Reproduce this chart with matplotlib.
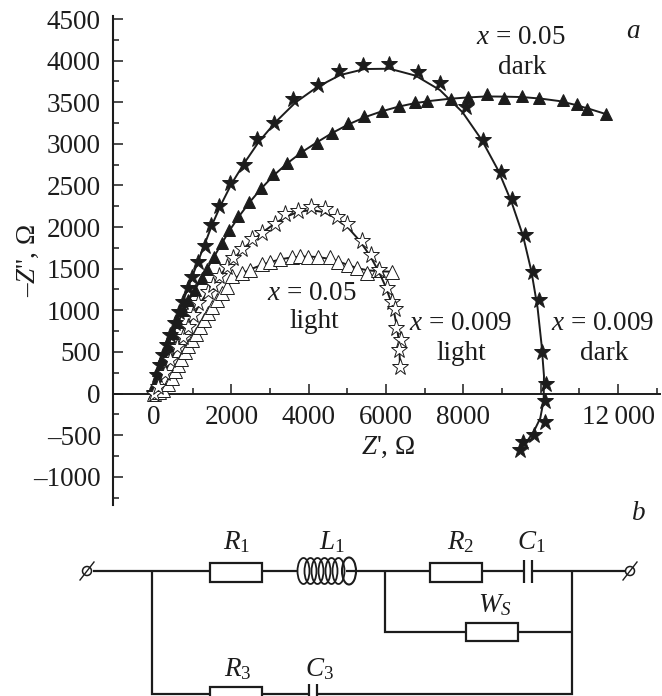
import numpy as np
import matplotlib
matplotlib.use("Agg")
import matplotlib.pyplot as plt
from matplotlib.patches import Ellipse, Rectangle
from matplotlib.ticker import MultipleLocator, FixedLocator

plt.rcParams['font.family'] = ['Liberation Serif', 'DejaVu Serif']
plt.rcParams['mathtext.fontset'] = 'custom'
plt.rcParams['mathtext.rm'] = 'Liberation Serif'
plt.rcParams['mathtext.it'] = 'Liberation Serif:italic'
plt.rcParams['mathtext.default'] = 'it'

INK = '#1c1c1c'
FS = 19.5

dark_star_x = [0, 70, 155, 240, 328, 414, 543, 654, 750, 879, 975, 1130, 1319, 1474, 1681, 1965, 2327, 2671, 3103,
               3602, 4241, 4776, 5412, 6077, 6819, 7388, 8076, 8508, 8981, 9258, 9602, 9809, 9948, 10034, 10137,
               10111, 10111, 9827, 9550, 9465]
dark_star_y = [6, 222, 343, 463, 583, 703, 847, 983, 1103, 1268, 1404, 1584, 1767, 2025, 2257, 2534, 2743, 3063, 3255,
               3540, 3704, 3880, 3945, 3965, 3868, 3728, 3447, 3047, 2659, 2341, 1901, 1457, 1124, 495, 111,
               -94, -339, -499, -587, -679]
dark_tri_x = [0, 26, 111, 240, 370, 499, 628, 758, 887, 1060, 1233, 1378, 1552, 1751, 1947, 2180, 2464, 2767, 3085,
              3432, 3801, 4207, 4595, 5025, 5438, 5904, 6343, 6750, 7053, 7680, 8128, 8604, 9059, 9524, 9956, 10569,
              10931, 11190, 11681]
dark_tri_y = [6, 126, 282, 442, 583, 727, 863, 1004, 1124, 1244, 1388, 1496, 1644, 1805, 1965, 2137, 2305, 2466, 2638,
              2774, 2918, 3007, 3135, 3255, 3335, 3395, 3455, 3507, 3516, 3540, 3560, 3600, 3548, 3576, 3555, 3528,
              3476, 3419, 3359]
light_star_x = [0, 111, 284, 414, 587, 758, 887, 1016, 1146, 1389, 1534, 1689, 1880, 2051, 2268, 2542, 2785, 3129,
                3388, 3716, 4052, 4422, 4725, 4999, 5371, 5604, 5826, 6018, 6147, 6232, 6258, 6380, 6343, 6362]
light_star_y = [0, 82, 243, 403, 563, 683, 803, 943, 1084, 1224, 1304, 1412, 1524, 1625, 1733, 1853, 1933, 2037,
                2157, 2197, 2245, 2214, 2125, 2037, 1837, 1665, 1484, 1264, 1103, 1016, 784, 643, 523, 322]
light_tri_x = [0, 130, 233, 350, 465, 545, 621, 710, 802, 890, 983, 1085, 1190, 1290, 1396, 1510, 1629, 1760, 1888,
               2009, 2268, 2483, 2785, 3000, 3258, 3561, 3776, 3990, 4249, 4551, 4766, 5025, 5242, 5500, 5800, 6147]
light_tri_y = [0, 15, 42, 115, 186, 265, 343, 420, 499, 570, 643, 720, 799, 885, 968, 1045, 1124, 1205, 1280,
               1412, 1445, 1484, 1556, 1584, 1617, 1644, 1653, 1644, 1644, 1644, 1584, 1545, 1505, 1445, 1484, 1464]

x_major_ticks = [0, 2000, 4000, 6000, 8000, 10000, 12000]
x_minor_ticks = [1000, 3000, 5000, 7000, 9000, 11000, 13000]
x_tick_labels = ['0', '2000', '4000', '6000', '8000', '', '12\u2009000']
y_tick_values = [-1000, -500, 0, 500, 1000, 1500, 2000, 2500, 3000, 3500, 4000, 4500]
y_tick_labels = ['\u20131000', '\u2013500', '0', '500', '1000', '1500', '2000', '2500', '3000', '3500', '4000', '4500']

W, H = 662, 696
fig = plt.figure(figsize=(W / 100, H / 100), dpi=100, facecolor='white')

L, R, T, B = 113.5, 660, 16, 505
ax = fig.add_axes([L / W, 1 - B / H, (R - L) / W, (B - T) / H])
ax.set_xlim(-1047, 13085)
ax.set_ylim(-1340, 4537)
ax.patch.set_alpha(0)


def smooth(values):
    v = np.asarray(values, float)
    for _ in range(2):
        out = v.copy()
        out[1:-1] = (v[:-2] + v[1:-1] + v[2:]) / 3
        v = out
    return v


series = [
    (dark_star_x, dark_star_y, '*', 12, INK),
    (dark_tri_x, dark_tri_y, '^', 9, INK),
    (light_tri_x, light_tri_y, '^', 9.5, 'white'),
    (light_star_x, light_star_y, '*', 12.5, 'white'),
]
for i, (sx, sy, mk, ms, fc) in enumerate(series):
    ax.plot(smooth(sx), smooth(sy), color=INK, lw=1.4, zorder=3 + i, clip_on=False)
    ax.plot(sx, sy, ls='none', marker=mk, ms=ms, mfc=fc, mec=INK, mew=0.7, zorder=3 + i, clip_on=False)

for s in ('top', 'right'):
    ax.spines[s].set_visible(False)
ax.spines['bottom'].set_position(('data', 0))
ax.spines['bottom'].set_linewidth(1.4)
ax.spines['left'].set_linewidth(1.5)
ax.spines['bottom'].set_color(INK)
ax.spines['left'].set_color(INK)

ax.xaxis.set_major_locator(FixedLocator(x_major_ticks))
ax.xaxis.set_minor_locator(FixedLocator(x_minor_ticks))
ax.set_xticklabels(x_tick_labels)
ax.yaxis.set_major_locator(FixedLocator(y_tick_values))
ax.set_yticklabels(y_tick_labels)
ax.yaxis.set_minor_locator(MultipleLocator(250))
ax.tick_params(axis='both', which='major', direction='in', length=7.2, width=1.1, labelsize=FS,
               color=INK, labelcolor=INK)
ax.tick_params(axis='both', which='minor', direction='in', length=4.3, width=1.1, color=INK)
ax.tick_params(axis='x', pad=8)
ax.tick_params(axis='y', pad=9)

ov = fig.add_axes([0, 0, 1, 1], zorder=10)
ov.set_xlim(0, W)
ov.set_ylim(H, 0)
ov.axis('off')
ov.patch.set_alpha(0)

labels = [
    (633, 31, r'$a$'), (521, 37, r'$x$ = 0.05'), (522, 67, 'dark'),
    (312, 293, r'$x$ = 0.05'), (314, 322, 'light'),
    (461, 324, r'$x$ = 0.009'), (461, 353, 'light'),
    (603, 323, r'$x$ = 0.009'), (604, 353, 'dark'),
    (388, 447, "$Z$', \u03a9"), (638, 514, r'$b$'),
    (237, 542, r'$R_1$'), (332, 542, r'$L_1$'), (461, 542, r'$R_2$'), (531, 542, r'$C_1$'),
    (495, 605, r'$W_S$'), (238, 669, r'$R_3$'), (319, 669, r'$C_3$'),
]
for lx, ly, s in labels:
    ov.text(lx, ly, s, ha='center', va='center', fontsize=FS, color=INK)
ov.text(28, 261, "\u2013$Z$'', \u03a9", ha='center', va='center', rotation=90, fontsize=FS, color=INK)

wires = [
    ([93, 210], [571, 571]), ([262, 298], [571, 571]), ([346, 430], [571, 571]), ([482, 524], [571, 571]),
    ([532, 625], [571, 571]), ([151.5, 151.5, 210], [571, 694, 694]), ([262, 309], [694, 694]),
    ([317, 572, 572], [694, 694, 571]), ([385, 385, 465], [571, 632, 632]), ([518, 572], [632, 632]),
    ([524, 524], [560, 583]), ([532, 532], [560, 583]), ([309, 309], [684, 696]), ([317, 317], [684, 696]),
]
for wx, wy in wires:
    ov.plot(wx, wy, color=INK, lw=1.6, solid_capstyle='butt', solid_joinstyle='miter')
for rx, ry, rw, rh in [(210, 562.5, 52, 19), (430, 562.5, 52, 19), (465.5, 623, 52, 18), (210, 687, 52, 14)]:
    ov.add_patch(Rectangle((rx, ry), rw, rh, fc='white', ec=INK, lw=1.6, clip_on=True))
for cx in [303.5, 310.5, 317.5, 324.5, 331.5, 338.5]:
    ov.add_patch(Ellipse((cx, 571), 12, 26, fc='none', ec=INK, lw=1.3))
ov.add_patch(Ellipse((349, 571), 14, 27, fc='none', ec=INK, lw=1.5))
for tx in (87, 630):
    ov.add_patch(Ellipse((tx, 571), 9, 9, fc='white', ec=INK, lw=1.1))
    ov.plot([tx - 7, tx + 7], [580, 562], color=INK, lw=1.0)

fig.savefig('out.png', dpi=100)
